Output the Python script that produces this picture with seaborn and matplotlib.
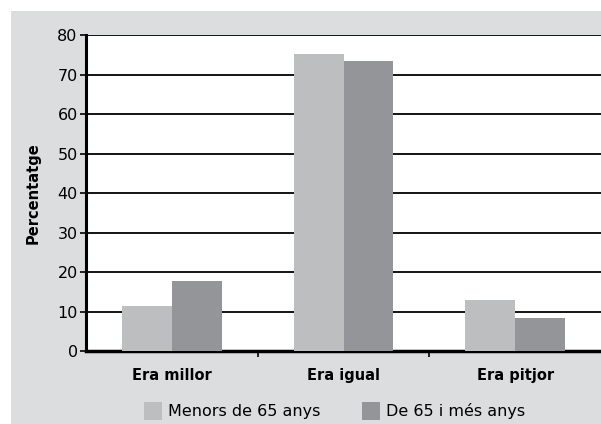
import matplotlib
matplotlib.use("Agg")
import matplotlib.pyplot as plt
import pandas as pd
import seaborn as sns
from matplotlib.patches import Rectangle

#------Data------

categories = ["Era millor", "Era igual", "Era pitjor"]
menors_65 = [11.5, 75.3, 12.9]
majors_65 = [17.8, 73.6, 8.4]
series_names = ["Menors de 65 anys", "De 65 i més anys"]
y_ticks = [0, 10, 20, 30, 40, 50, 60, 70, 80]

COLORS = ["#bdbec0", "#939598"]
BG_GRAY = "#dcddde"

#------Plot------

df = pd.DataFrame({
    "categoria": categories * 2,
    "serie": [series_names[0]] * 3 + [series_names[1]] * 3,
    "valor": menors_65 + majors_65,
})

sns.set_style("white")
plt.rcParams["font.family"] = ["DejaVu Sans"]
plt.rcParams["text.color"] = "black"
plt.rcParams["axes.labelcolor"] = "black"
plt.rcParams["xtick.color"] = "black"
plt.rcParams["ytick.color"] = "black"

fig = plt.figure(figsize=(6.01, 4.24), dpi=100)
fig.patch.set_facecolor("white")

# gray box behind everything, starting 11px in from top/left
bg = Rectangle((11 / 601, 0), 1, 1 - 11 / 424, transform=fig.transFigure,
               facecolor=BG_GRAY, edgecolor="none", zorder=-10)
fig.add_artist(bg)

ax = fig.add_axes([86 / 601, 1 - 351 / 424, 1 - 86 / 601, (351 - 35.3) / 424])
ax.set_facecolor("white")

sns.barplot(data=df, x="categoria", y="valor", hue="serie", palette=COLORS,
            width=0.58, saturation=1, linewidth=0, ax=ax, zorder=3, legend=True)

ax.set_ylim(0, 80)
ax.set_xlim(-0.5, 2.5)
ax.set_yticks(y_ticks)
ax.yaxis.grid(True, color="black", linewidth=1.3, zorder=0)
ax.set_axisbelow(True)

for side in ["top", "right"]:
    ax.spines[side].set_visible(False)
ax.spines["left"].set_linewidth(2.2)
ax.spines["bottom"].set_linewidth(2.5)
ax.spines["left"].set_color("black")
ax.spines["bottom"].set_color("black")

ax.tick_params(axis="y", direction="out", length=4, width=1.2, pad=2, labelsize=11.5, left=True)
ax.set_xticks([0.5, 1.5], minor=True)
ax.tick_params(axis="x", which="minor", direction="out", length=4, width=1.2, bottom=True)
ax.tick_params(axis="x", which="major", length=0, pad=12)
for lbl in ax.get_xticklabels():
    lbl.set_fontweight("bold")
    lbl.set_fontsize(10.5)

ax.set_xlabel("")
ax.set_ylabel("Percentatge", fontsize=10.5, fontweight="bold", labelpad=12)

handles, labels = ax.get_legend_handles_labels()
ax.get_legend().remove()
for h in handles:
    h.set_edgecolor("none")
fig.legend(handles, labels, loc="center", bbox_to_anchor=(0.557, 1 - 411 / 424), ncol=2,
           frameon=False, fontsize=11.5, handlelength=1.1, handleheight=1.3,
           handletextpad=0.4, columnspacing=2.6)

fig.savefig("out.png", dpi=100, facecolor=fig.get_facecolor())
